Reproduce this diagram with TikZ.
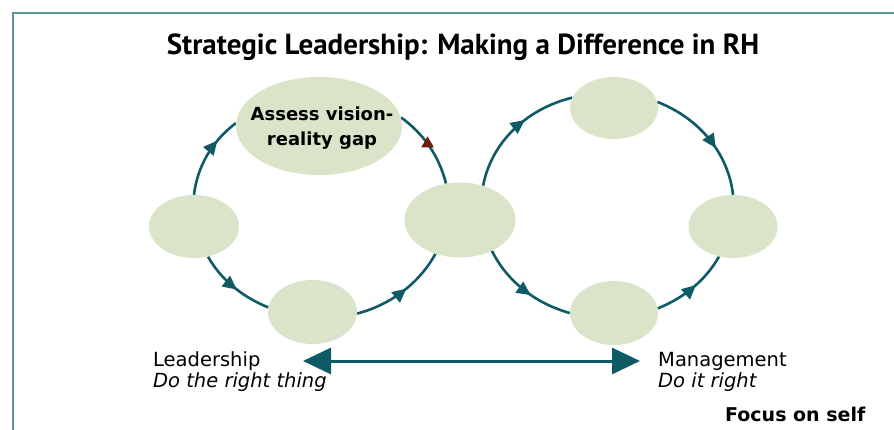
\documentclass[tikz,border=0pt]{standalone}
\usepackage{fontspec}
\setmainfont{DejaVu Sans}
\newfontfamily\titlefont{PT Sans}
\usetikzlibrary{arrows.meta,decorations.markings,shapes.geometric,backgrounds}
\definecolor{sage}{HTML}{D9E4C8}
\definecolor{tealc}{HTML}{0E5B66}
\definecolor{framec}{HTML}{5B9499}
\definecolor{redc}{HTML}{6E1C0E}
\tikzset{
  blob/.style={ellipse, fill=sage, inner sep=0pt},
  conn/.style={draw=tealc, line width=2.6pt},
  marr/.style={postaction={decorate, decoration={markings,
      mark=at position #1 with {\arrow{Triangle[length=14pt,width=13pt]}}}}},
  redmark/.style={postaction={decorate, decoration={markings,
      mark=at position #1 with {\node[regular polygon, regular polygon sides=3,
        draw=redc, fill=redc, line width=1pt, inner sep=0pt, minimum size=12.5pt]{};}}}},
  bodytxt/.style={anchor=base west, inner sep=0pt, font=\fontsize{19.5}{23}\selectfont},
  bigarrow/.style={draw=tealc, line width=3pt,
      {Triangle[length=28pt,width=26pt]}-{Triangle[length=28pt,width=26pt]}},
}
\begin{document}
\begin{tikzpicture}[x=1pt,y=-1pt]
\useasboundingbox (0,0) rectangle (894,430);
\draw[framec, line width=2pt] (13,431) -- (13,13) -- (895,13);

\node[anchor=base, inner sep=0pt, font=\titlefont\bfseries\fontsize{29}{32}\selectfont] (title) at (463,55)
  {Strategic Leadership: Making a Difference in RH};

% left cycle nodes
\node[blob, minimum width=166pt, minimum height=98pt] (L1) at (319,126) {};
\node[blob, minimum width=90pt, minimum height=63pt] (L2) at (194,226.5) {};
\node[blob, minimum width=89pt, minimum height=64pt] (L3) at (312.5,312) {};
\node[blob, minimum width=111pt, minimum height=75pt] (S) at (460,220) {};
% right cycle nodes
\node[blob, minimum width=88pt, minimum height=62pt] (R1) at (614,108) {};
\node[blob, minimum width=89pt, minimum height=63pt] (R2) at (733,226.5) {};
\node[blob, minimum width=88pt, minimum height=64pt] (R3) at (614,313) {};

\node[anchor=north, align=center, inner sep=0pt,
      font=\bfseries\fontsize{18}{25}\selectfont] (L1txt) at (322,106.5)
  {Assess vision-\\reality gap};

\begin{pgfonlayer}{background}
\fill[white] (0,0) rectangle (894,430);
\draw[conn, marr=0.7]  (L2.90)  .. controls (197.2,167.3) and (211.4,141.4) .. (L1.178);
\draw[conn, marr=0.55] (L2.-65) .. controls (219.7,277.8) and (240.9,296.5) .. (L3.174);
\draw[conn, marr=0.55] (L3.-2)  .. controls (390.6,304.8) and (419.3,283.3) .. (S.234);
\draw[conn, redmark=0.54] (S.111) .. controls (439.2,156.2) and (423.5,133.5) .. (L1.6);
\draw[conn, marr=0.6]  (S.56)   .. controls (491.1,143.6) and (524.9,109.3) .. (R1.166);
\draw[conn, marr=0.6]  (R1.8)   .. controls (700.0,118.5) and (728.5,154.2) .. (R2.90);
\draw[conn, marr=0.58] (S.-44)  .. controls (506.7,280.9) and (535.3,303.5) .. (R3.180);
\draw[conn, marr=0.55] (R3.6)   .. controls (684.6,297.7) and (706.2,279.4) .. (R2.245);
\end{pgfonlayer}

\node[bodytxt] (lead) at (153,366.7) {Leadership};
\node[bodytxt, font=\itshape\fontsize{19.5}{23}\selectfont] (leadsub) at (153,387) {Do the right thing};
\node[bodytxt] (mgmt) at (658,366.7) {Management};
\node[bodytxt, font=\itshape\fontsize{19.5}{23}\selectfont] (mgmtsub) at (658,387) {Do it right};
\node[bodytxt, font=\bfseries\fontsize{19}{23}\selectfont] (focus) at (725,421.7) {Focus on self};

\coordinate (aL) at (303,361);
\coordinate (aR) at (640,361);
\draw[bigarrow] (aL) -- (aR);
\end{tikzpicture}
\end{document}
